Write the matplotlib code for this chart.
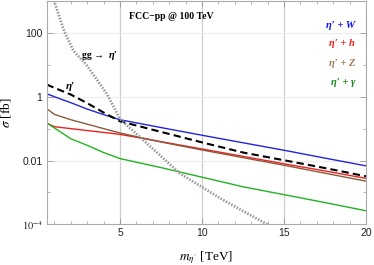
import matplotlib
matplotlib.use("Agg")
import matplotlib.pyplot as plt
from matplotlib.ticker import FixedLocator, NullFormatter

plt.rcParams['mathtext.fontset'] = 'stix'

# ---- data ----
mass = [0.53, 1, 2, 3, 4, 5, 7.5, 10, 12.5, 15, 17.5, 20]
sigma_W = [1.24, 1.0, 0.65, 0.41, 0.275, 0.19, 0.108, 0.062, 0.036, 0.021, 0.0119, 0.0068]
sigma_eta = [2.42, 1.9, 1.17, 0.63, 0.32, 0.17, 0.079, 0.037, 0.0178, 0.0102, 0.0058, 0.0032]
mass_h = [0.6, 1, 2, 3, 4, 5, 7.5, 10, 12.5, 15, 17.5, 20]
sigma_h = [0.143, 0.115, 0.1, 0.087, 0.076, 0.066, 0.039, 0.023, 0.0135, 0.0079, 0.0047, 0.00275]
sigma_Z = [0.42, 0.28, 0.19, 0.138, 0.1, 0.073, 0.038, 0.0214, 0.0123, 0.0071, 0.004, 0.00225]
sigma_gamma = [0.15, 0.105, 0.048, 0.030, 0.0178, 0.0115, 0.006, 0.003, 0.0015, 0.00085, 0.00048, 0.000266]
mass_gg = [0.97, 1.6, 2.15, 3.0, 4.2, 5.0, 6.5, 8.66, 11.28, 14.15]
sigma_gg = [1050, 112, 28, 9.3, 1.23, 0.2, 0.04, 0.0039, 5.8e-4, 8.9e-5]

x_major = [5, 10, 15, 20]
x_minor = list(range(1, 21))
y_major = [1e-4, 1e-2, 1, 1e2]
y_major_labels = [r"$10^{-4}$", "0.01", "1", "100"]
y_minor = [1e-3, 1e-1, 10, 1e3]

legend_labels = ["\u03b7\u2032 + W", "\u03b7\u2032 + h", "\u03b7\u2032 + Z", "\u03b7\u2032 + \u03b3"]

c_blue = '#2424d8'
c_red = '#ee2020'
c_brown = '#8a5a3a'
c_green = '#22b422'
leg_colors = ['#1010ff', '#ff1a1a', '#a07a55', '#1a8a1a']
serif = ['Liberation Serif', 'DejaVu Serif']

fig = plt.figure(figsize=(3.74, 2.65), dpi=100)
ax = fig.add_axes([0.1249, 0.1536, 0.8537, 0.8424])
ax.set_yscale('log')
ax.set_xlim(0.53, 20)
ax.set_ylim(1e-4, 1e3)

# grid
for xv in [5, 10, 15]:
    ax.axvline(xv, color='#cfcfcf', lw=0.9, zorder=0)
for yv in [1e2, 1, 1e-2]:
    ax.axhline(yv, color='#ececec', lw=0.8, zorder=0)

ax.plot(mass, sigma_W, color=c_blue, lw=1.0)
ax.plot(mass_h, sigma_h, color=c_red, lw=1.0)
ax.plot(mass, sigma_Z, color=c_brown, lw=1.0)
ax.plot(mass, sigma_gamma, color=c_green, lw=1.0)
ax.plot(mass, sigma_eta, color='black', lw=1.5, linestyle=(0, (3.5, 2)))
ax.plot(mass_gg, sigma_gg, color='#999999', lw=2.0, linestyle=(0, (0.55, 0.55)))

# ticks
ax.xaxis.set_major_locator(FixedLocator(x_major))
ax.xaxis.set_minor_locator(FixedLocator(x_minor))
ax.yaxis.set_major_locator(FixedLocator(y_major))
ax.yaxis.set_minor_locator(FixedLocator(y_minor))
ax.set_yticklabels(y_major_labels)
ax.yaxis.set_minor_formatter(NullFormatter())
ax.tick_params(which='both', direction='in', top=True, right=True, color='#999999')
ax.tick_params(which='major', length=4, width=0.6, labelsize=7.5, colors='#999999', labelcolor='#222222', pad=3)
ax.tick_params(which='minor', length=2.2, width=0.5, colors='#999999')
for lab in ax.get_xticklabels() + ax.get_yticklabels():
    lab.set_fontfamily('Liberation Sans')
for s in ax.spines.values():
    s.set_color('#aaaaaa')
    s.set_linewidth(0.8)

ax.set_xlabel(r"$m_{\eta^{\prime}}$ [TeV]", fontsize=9.5, fontfamily='Liberation Serif', labelpad=8)
ax.set_ylabel(r"$\sigma$ [fb]", fontsize=9.5, fontfamily='Liberation Serif', labelpad=6)

# annotations
ax.text(5.55, 10**2.51, "FCC\u2212pp @ 100 TeV", fontsize=7, fontweight='bold',
        family=serif, va='center', ha='left')
ax.text(2.68, 10**1.29, "gg \u2192 ", fontsize=7, fontweight='bold', family=serif, va='center', ha='left')
ax.text(4.3, 10**1.29, "\u03b7\u2032", fontsize=7.5, fontweight='bold', fontstyle='italic',
        family=serif, va='center', ha='left')
ax.text(1.7, 10**0.33, "\u03b7\u2032", fontsize=8, fontweight='bold', fontstyle='italic',
        family=serif, va='center', ha='left')

leg_y = [10**2.23, 10**1.656, 10**1.03, 10**0.456]
for lab, col, yv in zip(legend_labels, leg_colors, leg_y):
    ax.text(19.33, yv, lab, color=col, fontsize=7.6, ha='right', va='center',
            fontweight='bold', fontstyle='italic', family=serif)

fig.savefig('out.png', dpi=100)
